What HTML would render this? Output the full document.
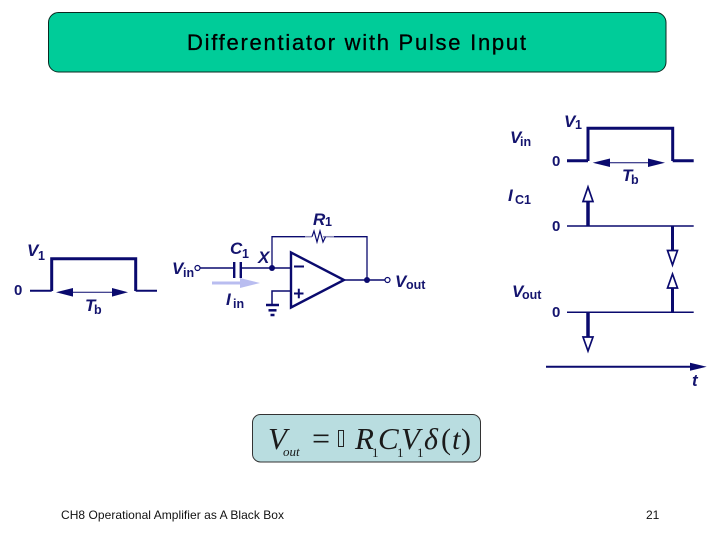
<!DOCTYPE html>
<html>
<head>
<meta charset="utf-8">
<style>
html,body{margin:0;padding:0;background:#fff;width:720px;height:540px;overflow:hidden}
svg{display:block}
text{font-family:"Liberation Sans",Arial,sans-serif}
.l{fill:#14146e;font-style:italic;font-weight:bold;font-size:17px}
.s{fill:#14146e;font-weight:bold;font-size:12.5px}
.z{fill:#14146e;font-weight:bold;font-size:15px}
.eq{font-family:"Liberation Serif",serif;fill:#1a1a1a}
</style>
</head>
<body>
<svg width="720" height="540" viewBox="0 0 720 540" xmlns="http://www.w3.org/2000/svg">
<rect x="48.5" y="12.5" width="617.5" height="59.5" rx="10" fill="#00cc99" stroke="#0a2a20" stroke-width="1"/>
<text x="187" y="50" font-size="22" fill="#000" stroke="#000" stroke-width="0.3" textLength="339" lengthAdjust="spacing">Differentiator with Pulse Input</text>

<g fill="none" stroke="#0a0a6e" stroke-linejoin="miter">
<!-- left pulse -->
<path d="M30 290.7H51.7" stroke-width="2"/>
<path d="M157 290.7H135.7" stroke-width="2"/>
<path d="M51.7 291V258.7H135.7V291" stroke-width="3"/>
<path d="M68 292.3H116" stroke-width="1"/>
<!-- circuit -->
<path d="M200 268H234M241 268H291" stroke-width="1.5"/>
<path d="M234.2 262V278M240.8 262V278" stroke-width="2.4"/>
<path d="M272 268V236.7H305M330 236.7H367V280" stroke-width="1.3"/>
<path d="M305 236.7H312" stroke="#8a8ab8" stroke-width="1.5"/>
<path d="M323 236.7H334" stroke="#8a8ab8" stroke-width="1.5"/>
<path d="M312 236.7L314 231L317 242L320 231L323 242L325.500 236.700" stroke-width="1.2"/>
<path d="M291 252.500V307.500L344 280Z" stroke-width="2.400"/>
<path d="M344 280H385" stroke-width="1.5"/>
<path d="M291 291H272V305" stroke-width="1.500"/>
<path d="M266 305H279" stroke-width="2.500"/>
<path d="M268.500 310.300H276.500" stroke-width="2.500"/>
<path d="M270.500 315H274.500" stroke-width="2.500"/>
<circle cx="197.500" cy="268" r="2.500" stroke-width="1.200" fill="#fff"/>
<circle cx="387.500" cy="280" r="2.500" stroke-width="1.200" fill="#fff"/>
<!-- right pulse -->
<path d="M567 160.700H588M672.700 160.700H693.700" stroke-width="3"/>
<path d="M588 161V128.300H672.700V161" stroke-width="3"/>
<path d="M605 162.700H652" stroke-width="1"/>
<!-- I_C1 -->
<path d="M567 226H693.700" stroke-width="1.500"/>
<path d="M588 226V201" stroke-width="3.500"/>
<path d="M672.500 226V250" stroke-width="3"/>
<!-- Vout -->
<path d="M567 312.300H693.700" stroke-width="1.500"/>
<path d="M672.500 312V288" stroke-width="3"/>
<path d="M588 312V337" stroke-width="3.500"/>
<!-- hollow heads -->
<g stroke-width="1.700" fill="#fff">
<path d="M588 187L583 201.500H593Z"/>
<path d="M672.500 265L667.500 250.500H677.500Z"/>
<path d="M672.500 274L667.500 288H677.500Z"/>
<path d="M588 351L583 337H593Z"/>
</g>
<!-- t axis -->
<path d="M546 366.700H692" stroke-width="2"/>
</g>

<g fill="#0a0a6e">
<path d="M56 292.300L73 288V296.600Z"/>
<path d="M128 292.300L112 288V296.600Z"/>
<path d="M592.700 162.700L610 158.500V167Z"/>
<path d="M665 162.700L648 158.500V167Z"/>
<path d="M706.700 366.700L690 362.700V370.700Z"/>
<circle cx="272" cy="268" r="3"/>
<circle cx="367" cy="280" r="3"/>
<path d="M294 265.500H304V267.500H294Z"/>
<path d="M294 292.500H303.500V294.500H294Z"/>
<path d="M297.800 288.700H299.800V298.300H297.800Z"/>
</g>
<path d="M212 281.500H240V278L260 283L240 288V284.500H212Z" fill="#b9bdf0"/>

<!-- left labels -->
<text class="l" x="27" y="256">V</text><text class="s" x="38" y="260" font-size="14">1</text>
<text class="z" x="14" y="295">0</text>
<text class="l" x="85" y="311">T</text><text class="s" x="94" y="314">b</text>

<!-- circuit labels -->
<text class="l" x="172" y="274">V</text><text class="s" x="183" y="277">in</text>
<text class="l" x="230" y="254">C</text><text class="s" x="242" y="258">1</text>
<text class="l" x="258" y="263" font-size="16">X</text>
<text class="l" x="313" y="225">R</text><text class="s" x="325" y="226">1</text>
<text class="l" x="226" y="305" font-size="16">I</text><text class="s" x="233" y="308">in</text>
<text class="l" x="395" y="287">V</text><text class="s" x="406" y="289">out</text>

<!-- right labels -->
<text class="l" x="510" y="143">V</text><text class="s" x="520" y="146">in</text>
<text class="l" x="564" y="127">V</text><text class="s" x="575" y="129">1</text>
<text class="z" x="552" y="166">0</text>
<text class="l" x="622" y="181">T</text><text class="s" x="631" y="184">b</text>
<text class="l" x="508" y="201" font-size="16">I</text><text class="s" x="515" y="204">C1</text>
<text class="z" x="552" y="231">0</text>
<text class="l" x="512" y="297">V</text><text class="s" x="522" y="299">out</text>
<text class="z" x="552" y="317">0</text>
<text class="l" x="692" y="386" font-size="15">t</text>

<!-- equation -->
<rect x="252.500" y="414.500" width="228" height="47.500" rx="8" fill="#b9dde0" stroke="#333" stroke-width="1"/>
<text class="eq" x="268" y="449" font-size="31" font-style="italic">V</text>
<text class="eq" x="283" y="456" font-size="13" font-style="italic">out</text>
<text class="eq" x="312" y="449" font-size="32">=</text>
<rect x="338.500" y="430.500" width="5" height="16" fill="none" stroke="#222" stroke-width="1"/>
<text class="eq" x="355" y="449" font-size="31" font-style="italic">R</text>
<text class="eq" x="372" y="457" font-size="13">1</text>
<text class="eq" x="378" y="449" font-size="31" font-style="italic">C</text>
<text class="eq" x="397" y="457" font-size="13">1</text>
<text class="eq" x="401" y="449" font-size="31" font-style="italic">V</text>
<text class="eq" x="417" y="457" font-size="13">1</text>
<text class="eq" x="424" y="449" font-size="30" font-style="italic">δ</text>
<text class="eq" x="441" y="449" font-size="30">(</text>
<text class="eq" x="452" y="449" font-size="30" font-style="italic">t</text>
<text class="eq" x="461" y="449" font-size="30">)</text>

<!-- footer -->
<text x="61" y="519" font-size="12" fill="#111" textLength="223" lengthAdjust="spacing">CH8 Operational Amplifier as A Black Box</text>
<text x="646" y="519" font-size="12" fill="#111">21</text>
</svg>
</body>
</html>
